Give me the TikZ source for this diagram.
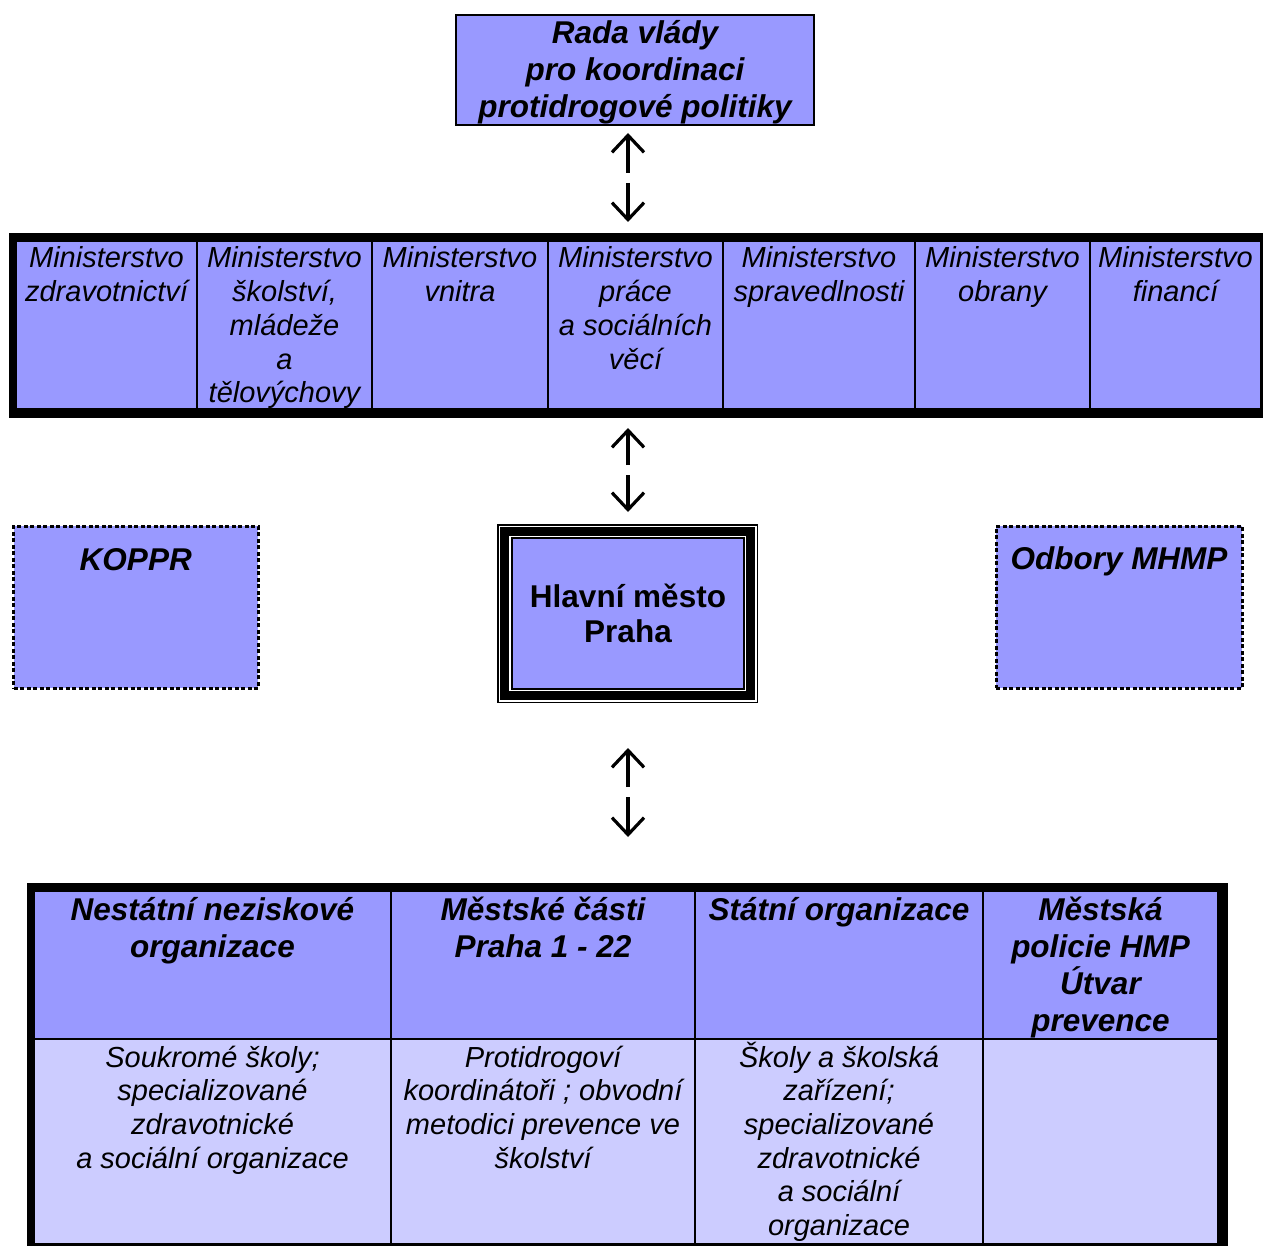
\documentclass[tikz,border=0pt]{standalone}
\usepackage{fontspec}
\setmainfont{Liberation Sans}
\usetikzlibrary{arrows.meta}
\definecolor{mainblue}{HTML}{9999FF}
\definecolor{lightblue}{HTML}{CCCCFF}
\tikzset{
  cellbox/.style={inner sep=0pt, outer sep=0pt, anchor=north west, draw=black, line width=2pt},
  frame/.style={fill=black, inner sep=0pt, outer sep=0pt, anchor=north west},
  minfont/.style={font=\fontsize{29}{33.7}\selectfont\itshape},
  bodyfont/.style={font=\fontsize{29}{33.7}\selectfont\itshape},
  headfont/.style={font=\fontsize{31.5}{37}\selectfont\bfseries\itshape},
  prahafont/.style={font=\fontsize{31.5}{35.5}\selectfont\bfseries},
  dashbox/.style={draw=black, line width=3pt, dash pattern=on 4pt off 2.5pt},
  updown/.style={line width=3.2pt, -{Straight Barb[length=17pt,width=32pt]}},
}
% [opts]{name}{x1}{y1}{x2}{y2}{first baseline offset}{text}
\newcommand\mkcell[8][]{\node[cellbox,#1] (#2) at (#3,#4) {\parbox[t][\dimexpr#6pt-#4pt\relax][t]{\dimexpr#5pt-#3pt\relax}{\centering\rule{0pt}{#7pt}#8}};}
\begin{document}
\begin{tikzpicture}[x=1pt,y=-1pt]
\useasboundingbox (0,0) rectangle (1263,1246);
\clip (0,0) rectangle (1263,1246);

% top box
\mkcell[fill=mainblue, headfont]{rada}{456}{15}{814}{125}{29}{Rada vlády\\pro koordinaci\\protidrogové politiky}

% ministries table
\node[frame, minimum width=1261pt, minimum height=185pt] (minframe) at (9,233) {};
\mkcell[fill=mainblue, minfont]{m1}{16}{241}{197}{409}{27}{Ministerstvo\\zdravotnictví}
\mkcell[fill=mainblue, minfont]{m2}{197}{241}{372}{409}{27}{Ministerstvo\\školství,\\mládeže\\a\\tělovýchovy}
\mkcell[fill=mainblue, minfont]{m3}{372}{241}{548}{409}{27}{Ministerstvo\\vnitra}
\mkcell[fill=mainblue, minfont]{m4}{548}{241}{723}{409}{27}{Ministerstvo\\práce\\a sociálních\\věcí}
\mkcell[fill=mainblue, minfont]{m5}{723}{241}{915}{409}{27}{Ministerstvo\\spravedlnosti}
\mkcell[fill=mainblue, minfont]{m6}{915}{241}{1090}{409}{27}{Ministerstvo\\obrany}
\mkcell[fill=mainblue, minfont]{m7}{1090}{241}{1261}{409}{27}{Ministerstvo\\financí}

% side dashed boxes
\mkcell[fill=mainblue, headfont, dashbox]{koppr}{13.5}{526}{258}{688}{44}{KOPPR}
\mkcell[fill=mainblue, headfont, dashbox]{odbory}{996}{526}{1242}{688}{43}{Odbory MHMP}

% centre box with triple frame
\fill[black] (497,524) rectangle (758,703);
\fill[white] (498.5,525.5) rectangle (756.5,701.5);
\fill[black] (500,527) rectangle (755,700);
\fill[white] (509,536) rectangle (746,691);
\mkcell[fill=mainblue, prahafont, line width=1.5pt]{praha}{512}{538}{744}{689}{69}{Hlavní město\\Praha}

% bottom table
\node[frame, minimum width=1201pt, minimum height=372pt] (botframe) at (27,883) {};
\mkcell[fill=mainblue, headfont]{h1}{34}{891}{391}{1039}{29}{Nestátní neziskové\\organizace}
\mkcell[fill=mainblue, headfont]{h2}{391}{891}{695}{1039}{29}{Městské části\\Praha 1 - 22}
\mkcell[fill=mainblue, headfont]{h3}{695}{891}{983}{1039}{29}{Státní organizace}
\mkcell[fill=mainblue, headfont]{h4}{983}{891}{1218}{1039}{29}{Městská\\policie HMP\\Útvar\\prevence}
\mkcell[fill=lightblue, bodyfont]{b1}{34}{1039}{391}{1244}{28}{Soukromé školy;\\specializované\\zdravotnické\\a sociální organizace}
\mkcell[fill=lightblue, bodyfont]{b2}{391}{1039}{695}{1244}{28}{Protidrogoví\\koordinátoři ; obvodní\\metodici prevence ve\\školství}
\mkcell[fill=lightblue, bodyfont]{b3}{695}{1039}{983}{1244}{28}{Školy a školská\\zařízení;\\specializované\\zdravotnické\\a sociální\\organizace}
\mkcell[fill=lightblue, bodyfont]{b4}{983}{1039}{1218}{1244}{28}{}

% arrows
\coordinate (u1s) at (628,173); \coordinate (u1e) at (628,133);
\coordinate (d1s) at (628,183); \coordinate (d1e) at (628,222);
\coordinate (u2s) at (628,465); \coordinate (u2e) at (628,428);
\coordinate (d2s) at (628,475); \coordinate (d2e) at (628,512);
\coordinate (u3s) at (628,787); \coordinate (u3e) at (628,748);
\coordinate (d3s) at (628,797); \coordinate (d3e) at (628,837);
\draw[updown] (u1s) -- (u1e);
\draw[updown] (d1s) -- (d1e);
\draw[updown] (u2s) -- (u2e);
\draw[updown] (d2s) -- (d2e);
\draw[updown] (u3s) -- (u3e);
\draw[updown] (d3s) -- (d3e);
\end{tikzpicture}
\end{document}
